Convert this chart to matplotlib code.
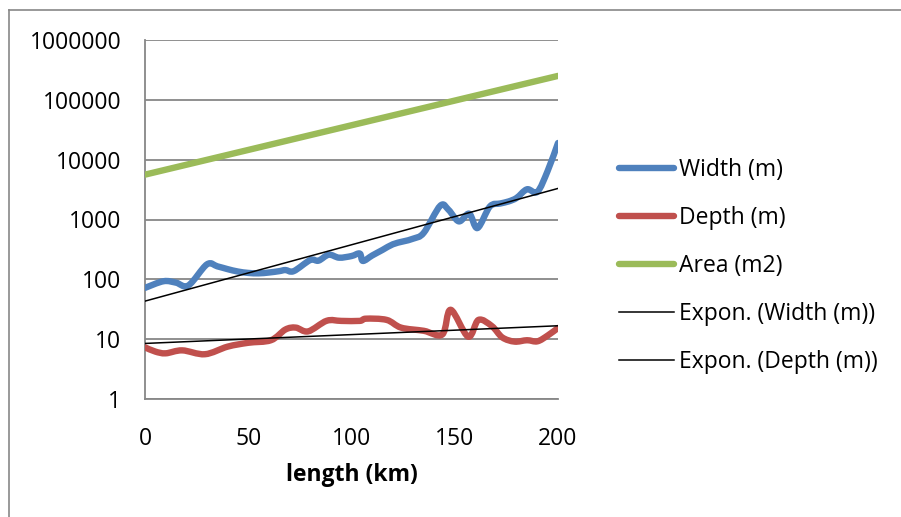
import numpy as np
import matplotlib
matplotlib.use("Agg")
import matplotlib.pyplot as plt
from matplotlib.path import Path
from matplotlib.patches import PathPatch
from matplotlib.lines import Line2D

# Channel geometry along the river
width_km = [0, 9, 15, 21, 30, 35, 40, 45, 50, 55, 60, 65, 68, 72, 80, 84, 89, 94,
            100, 104, 105.5, 110, 115, 120, 125, 130, 135, 143, 147, 152, 157, 161,
            167, 172, 176, 180, 185, 190, 195, 200]
width_m = [72, 93, 88, 79, 178, 165, 148, 135, 128, 126, 130, 137, 143, 137, 210, 205,
           258, 230, 245, 270, 203, 250, 310, 385, 430, 480, 600, 1700, 1450, 930,
           1250, 720, 1650, 1850, 2000, 2300, 3200, 2900, 6500, 19000]

depth_km = [0, 5, 10, 18, 29, 40, 50, 61, 68, 73, 79, 88, 95, 104, 107, 117, 124,
            135, 144, 148, 156.5, 161.5, 168, 173, 179, 185, 190, 195, 200]
depth_m = [7.3, 6.2, 5.8, 6.5, 5.6, 7.5, 8.7, 9.6, 14.5, 15.6, 13.5, 20.3, 20.2, 20.2,
           22, 21, 15.6, 13.8, 12, 31, 11, 21, 16.5, 10.7, 9.1, 9.6, 9.2, 11.5, 15.4]

area_km = [0, 25, 50, 75, 100, 125, 150, 175, 200]
area_m2 = [5620, 9040, 14540, 23380, 37580, 60420, 97140, 156300, 251200]

x_ticks = [0, 50, 100, 150, 200]
y_ticks = [1, 10, 100, 1000, 10000, 100000, 1000000]
y_tick_labels = ["1", "10", "100", "1000", "10000", "100000", "1000000"]
series_names = ["Width (m)", "Depth (m)", "Area (m2)",
                "Expon. (Width (m))", "Expon. (Depth (m))"]

BLUE, RED, GREEN = "#4F81BD", "#C0504D", "#9BBB59"
GRID = "#878787"
FONT = "Open Sans"
FS = 16.5

plt.rcParams["font.family"] = [FONT, "DejaVu Sans"]


def smooth_path(x, y):
    """Cubic Bezier through the points, built in (x, log10 y) space."""
    pts = np.column_stack([np.asarray(x, float), np.log10(np.asarray(y, float))])
    n = len(pts)
    verts = [pts[0]]
    codes = [Path.MOVETO]
    for i in range(n - 1):
        p0 = pts[max(i - 1, 0)]
        p1 = pts[i]
        p2 = pts[i + 1]
        p3 = pts[min(i + 2, n - 1)]
        verts += [p1 + (p2 - p0) / 6.0, p2 - (p3 - p1) / 6.0, p2]
        codes += [Path.CURVE4] * 3
    verts = np.array(verts)
    verts[:, 1] = 10 ** verts[:, 1]
    return Path(verts, codes)


fig = plt.figure(figsize=(9.01, 5.17), dpi=100)
ax = fig.add_axes([145 / 901, 1 - 399 / 517, 413 / 901, 359 / 517])
ax.set_yscale("log")
ax.set_xlim(0, 200)
ax.set_ylim(1, 1000000)

lw_series = 4.6
for xs, ys, col in [(width_km, width_m, BLUE), (depth_km, depth_m, RED)]:
    ax.add_patch(PathPatch(smooth_path(xs, ys), fill=False, edgecolor=col,
                           lw=lw_series, capstyle="round", joinstyle="round",
                           zorder=3))
ax.plot(area_km, area_m2, color=GREEN, lw=lw_series, solid_capstyle="round",
        zorder=3)

# Exponential trendlines (least squares on ln y)
xfit = np.linspace(0, 200, 100)
for xs, ys in [(width_km, width_m), (depth_km, depth_m)]:
    b, a = np.polyfit(np.asarray(xs, float), np.log(np.asarray(ys, float)), 1)
    ax.plot(xfit, np.exp(a + b * xfit), color="black", lw=1.1, zorder=4)

ax.set_xticks(x_ticks)
ax.set_xticklabels([str(v) for v in x_ticks])
ax.set_yticks(y_ticks)
ax.set_yticklabels(y_tick_labels)
ax.yaxis.set_minor_locator(matplotlib.ticker.NullLocator())
ax.tick_params(axis="both", length=0, labelsize=FS)
ax.tick_params(axis="y", pad=17)
ax.tick_params(axis="x", pad=20)
ax.grid(axis="y", which="major", color=GRID, lw=1.3)
ax.set_axisbelow(True)
for s in ["top", "right"]:
    ax.spines[s].set_visible(False)
for s in ["left", "bottom"]:
    ax.spines[s].set_color(GRID)
    ax.spines[s].set_linewidth(1.3)

ax.set_xlabel("length (km)", fontsize=FS, fontweight="bold", labelpad=9)

handles = [
    Line2D([], [], color=BLUE, lw=lw_series, solid_capstyle="round"),
    Line2D([], [], color=RED, lw=lw_series, solid_capstyle="round"),
    Line2D([], [], color=GREEN, lw=lw_series, solid_capstyle="round"),
    Line2D([], [], color="black", lw=1.1),
    Line2D([], [], color="black", lw=1.1),
]
fig.legend(handles, series_names, loc="center left",
           bbox_to_anchor=(619 / 901, 1 - 266 / 517), frameon=False,
           fontsize=FS, handlelength=2.4, handletextpad=0.2,
           labelspacing=1.05, borderpad=0, borderaxespad=0)

# Chart-area border
fig.add_artist(Line2D([8.7 / 901, 1.02], [1 - 9.5 / 517] * 2,
                      transform=fig.transFigure, color=GRID, lw=1.2))
fig.add_artist(Line2D([8.7 / 901] * 2, [1 - 9.5 / 517, -0.02],
                      transform=fig.transFigure, color=GRID, lw=1.2))

fig.savefig("out.png", dpi=100)
